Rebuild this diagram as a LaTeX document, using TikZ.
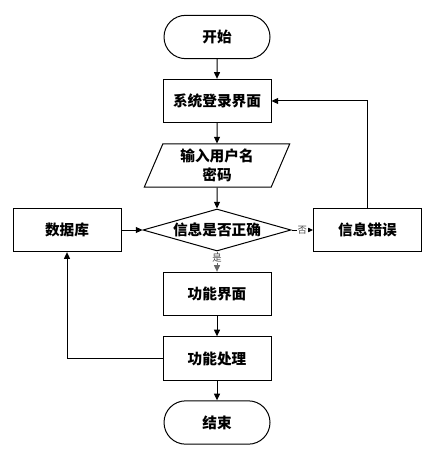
\documentclass[tikz,border=0pt]{standalone}
\usepackage{fontspec}
\newfontfamily\cjk{Noto Sans CJK SC}
\usetikzlibrary{shapes.geometric,shapes.misc,arrows.meta}
\tikzset{every picture/.style={line width=0.75pt}}
\tikzset{
  box/.style={draw,rectangle,minimum width=81pt,minimum height=32.5pt,inner sep=0.75pt,font=\cjk\bfseries\fontsize{11}{14}\selectfont},
  term/.style={box,rounded rectangle},
  inbox/.style={box,trapezium,trapezium stretches body,trapezium left angle=62,trapezium right angle=118,minimum width=109pt,minimum height=32.25pt,align=center},
  judge/.style={box,diamond,aspect=3.5,minimum width=111pt,minimum height=31.5pt,inner sep=0pt},
  lbl/.style={font=\cjk\fontsize{7}{8}\selectfont,text=black!70,fill=white,inner sep=0.5pt},
  arr/.style={-{Triangle[length=5pt,width=4.5pt]}}
}
\begin{document}
\begin{tikzpicture}[x=0.75pt,y=0.75pt,yscale=-1,xscale=1]
        \useasboundingbox (0,0) rectangle (428,452);

        %Terminal: start
        \node [term] (start) at (217,37) {开始};
        %Process: login
        \node [box] (login) at (217,101) {系统登录界面};
        %Data: input
        \node [inbox] (input) at (217,165.5) {输入用户名\\密码};
        %Decision
        \node [judge] (check) at (217,230) {信息是否正确};
        %Process: database
        \node [box] (db) at (67,230) {数据库};
        %Process: error
        \node [box] (err) at (367.5,230) {信息错误};
        %Process: function page
        \node [box] (page) at (217,294) {功能界面};
        %Process: function handling
        \node [box] (work) at (217,358.5) {功能处理};
        %Terminal: end
        \node [term] (stop) at (217,422.5) {结束};

        %Straight Lines
        \draw [arr] (start) -- (login) ;
        \draw [arr] (login) -- (input) ;
        \draw [arr] (input) -- (check) ;
        \draw [arr] (db) -- (check) ;
        \draw [arr] (check) -- node [lbl] {否} (err) ;
        \draw [arr,draw=black!60] (check) -- node [lbl,pos=0.35] {是} (page) ;
        \draw [arr] (page) -- (work) ;
        \draw [arr] (work) -- (stop) ;
        %Loops
        \draw [arr] (err.north) |- (login.east) ;
        \draw [arr] (work.west) -| (db.south) ;

    \end{tikzpicture}
\end{document}
